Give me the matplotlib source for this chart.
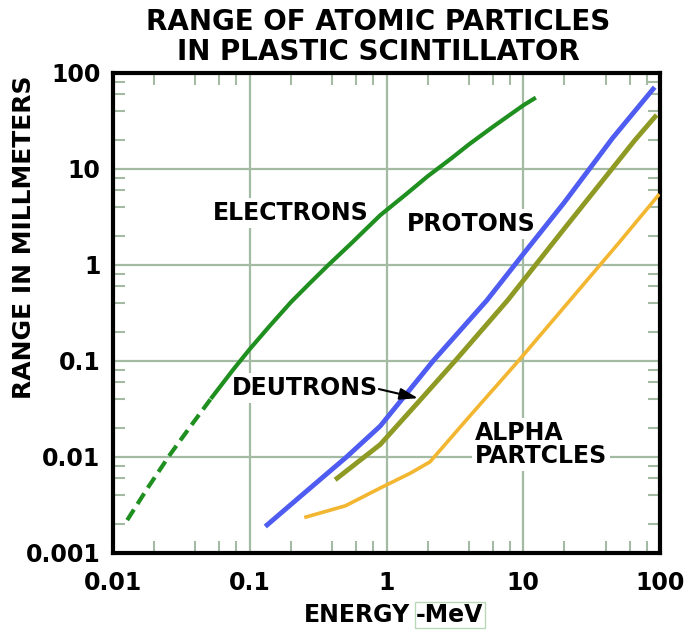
import matplotlib
matplotlib.use("Agg")
import matplotlib.pyplot as plt
from matplotlib.ticker import LogLocator, NullFormatter

# data (energy in MeV, range in mm)
electron_dash_x = [0.0127, 0.018, 0.026, 0.037, 0.053]
electron_dash_y = [0.0022, 0.0048, 0.0105, 0.021, 0.042]
electron_x = [0.053, 0.075, 0.1, 0.14, 0.2, 0.27, 0.37, 0.55, 0.9, 1.4, 2, 3, 4, 6, 10, 12]
electron_y = [0.042, 0.08, 0.133, 0.232, 0.41, 0.63, 0.98, 1.67, 3.3, 5.5, 8.4, 13, 18, 27.5, 46, 54]

proton_x = [0.134, 0.25, 0.51, 0.9, 2.19, 5.43, 10, 20, 45, 89]
proton_y = [0.00196, 0.0042, 0.01, 0.021, 0.1, 0.43, 1.3, 4.5, 21, 68]

deutron_x = [0.435, 0.9, 1.7, 3.17, 7.7, 20, 65.6, 92]
deutron_y = [0.006, 0.0135, 0.037, 0.1, 0.43, 2.4, 20, 35]

alpha_x = [0.258, 0.5, 0.9, 1.5, 2.08, 4, 9.2, 22, 50, 97]
alpha_y = [0.00237, 0.0031, 0.00475, 0.0068, 0.0089, 0.026, 0.1, 0.43, 1.7, 5.3]

x_ticks = [0.01, 0.1, 1, 10, 100]
x_labels = ["0.01", "0.1", "1", "10", "100"]
y_ticks = [0.001, 0.01, 0.1, 1, 10, 100]
y_labels = ["0.001", "0.01", "0.1", "1", "10", "100"]

W, H = 685, 632
grid_col = "#a3bba3"

fig = plt.figure(figsize=(W / 100, H / 100), dpi=100)
ax = fig.add_axes([113 / W, 79 / H, 547 / W, 480 / H])
ax.set_xscale("log")
ax.set_yscale("log")
ax.set_xlim(0.01, 100)
ax.set_ylim(0.001, 100)

# curves
ax.plot(electron_dash_x, electron_dash_y, color="#1f8f1f", lw=3,
        linestyle=(0, (3, 1.6)), solid_capstyle="butt", zorder=3)
ax.plot(electron_x, electron_y, color="#1f8f1f", lw=3, zorder=3)
ax.plot(proton_x, proton_y, color="#4f5cf2", lw=3.5, zorder=3)
ax.plot(deutron_x, deutron_y, color="#8f9a25", lw=3.5, zorder=3)
ax.plot(alpha_x, alpha_y, color="#f2b630", lw=2.6, zorder=3)

# axes styling
ax.set_xticks(x_ticks)
ax.set_xticklabels(x_labels)
ax.set_yticks(y_ticks)
ax.set_yticklabels(y_labels)
ax.xaxis.set_minor_locator(LogLocator(base=10, subs=[2, 4, 6, 8]))
ax.yaxis.set_minor_locator(LogLocator(base=10, subs=[2, 4, 6, 8]))
ax.xaxis.set_minor_formatter(NullFormatter())
ax.yaxis.set_minor_formatter(NullFormatter())
ax.tick_params(which="major", length=0, labelsize=17, top=True, right=True)
ax.tick_params(axis="x", which="major", pad=13)
ax.tick_params(axis="y", which="major", pad=9)
ax.tick_params(which="minor", direction="in", length=8.5, width=1.5,
               color=grid_col, top=True, right=True)
for lab in ax.get_xticklabels() + ax.get_yticklabels():
    lab.set_fontweight("bold")
ax.grid(True, which="major", color=grid_col, lw=1.6)
ax.set_axisbelow(True)
for sp in ax.spines.values():
    sp.set_linewidth(3)
    sp.set_color("black")

# curve labels (white box hides the grid, curves stay on top)
box = dict(facecolor="white", edgecolor="none", pad=2)
lab_kw = dict(fontsize=17, fontweight="bold", zorder=2.5, bbox=box)
ax.text(0.2, 3.5, "ELECTRONS", ha="center", va="center", **lab_kw)
ax.text(4.2, 2.67, "PROTONS", ha="center", va="center", **lab_kw)
ax.text(0.254, 0.052, "DEUTRONS", ha="center", va="center", **lab_kw)
ax.text(4.44, 0.0135, "ALPHA\nPARTCLES", ha="left", va="center",
        linespacing=0.95, **lab_kw)
ax.annotate("", xy=(1.7, 0.041), xytext=(0.88, 0.051),
            arrowprops=dict(arrowstyle="-|>,head_length=1.1,head_width=0.35",
                            color="black", lw=1.5, shrinkA=0, shrinkB=0),
            zorder=5)

# titles and axis labels
fig.text(378 / W, 1 - 22 / H, "RANGE OF ATOMIC PARTICLES", ha="center",
         va="center", fontsize=20, fontweight="bold")
fig.text(378 / W, 1 - 52 / H, "IN PLASTIC SCINTILLATOR", ha="center",
         va="center", fontsize=20, fontweight="bold")
fig.text(24 / W, 1 - 237 / H, "RANGE IN MILLMETERS", rotation=90,
         ha="center", va="center", fontsize=18, fontweight="bold")
fig.text(410 / W, 1 - 615 / H, "ENERGY", ha="right", va="center",
         fontsize=17, fontweight="bold")
fig.text(416 / W, 1 - 615 / H, "-MeV", ha="left", va="center",
         fontsize=17, fontweight="bold",
         bbox=dict(facecolor="white", edgecolor="#b8d8b8", lw=1, pad=1))

fig.savefig("out.png", dpi=100)
